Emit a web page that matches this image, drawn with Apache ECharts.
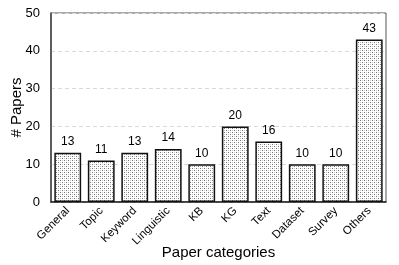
<!DOCTYPE html>
<html><head><meta charset="utf-8">
<script src="https://cdn.jsdelivr.net/npm/echarts@6/dist/echarts.min.js"></script>
<style>html,body{margin:0;padding:0;background:#fff}#c{width:399px;height:265px}</style>
</head><body><div id="c"></div>
<script>
const categories = ['General','Topic','Keyword','Linguistic','KB','KG','Text','Dataset','Survey','Others'];
const values = [13,11,13,14,10,20,16,10,10,43];
const yTicks = [0,10,20,30,40,50];

const pc = document.createElement('canvas');
pc.width = 4; pc.height = 4;
const ctx = pc.getContext('2d');
ctx.fillStyle = '#ffffff'; ctx.fillRect(0,0,4,4);
ctx.fillStyle = '#777777';
ctx.fillRect(0,0,1,1); ctx.fillRect(2,2,1,1);
ctx.fillStyle = '#c8c8c8';
ctx.fillRect(2,0,1,1); ctx.fillRect(0,2,1,1);

const chart = echarts.init(document.getElementById('c'));
chart.setOption({
  animation: false,
  grid: {left: 51, right: 13, top: 13, bottom: 63, show: true, borderColor: '#555', borderWidth: 1, containLabel: false, outerBoundsMode: 'none'},
  xAxis: {
    type: 'category', data: categories,
    name: 'Paper categories', nameLocation: 'middle', nameGap: 43, nameMoveOverlap: false,
    nameTextStyle: {fontFamily: 'Liberation Sans', fontSize: 15, color: '#000'},
    axisLine: {lineStyle: {color: '#222', width: 1.5}},
    axisTick: {show: false},
    axisLabel: {rotate: 45, fontFamily: 'Liberation Sans', fontSize: 11.5, color: '#000', margin: 7, interval: 0}
  },
  yAxis: {
    type: 'value', min: yTicks[0], max: yTicks[yTicks.length-1], interval: 10,
    name: '# Papers', nameLocation: 'middle', nameGap: 27, nameMoveOverlap: false,
    nameTextStyle: {fontFamily: 'Liberation Sans', fontSize: 15, color: '#000'},
    axisLine: {show: true, lineStyle: {color: '#444', width: 1.5}},
    axisTick: {show: false},
    axisLabel: {fontFamily: 'Liberation Sans', fontSize: 13, color: '#000', margin: 11},
    splitLine: {lineStyle: {color: '#d9d9d9', type: [4,3], width: 1}}
  },
  series: [{
    type: 'bar', data: values, barCategoryGap: '20%',
    itemStyle: {color: {image: pc, repeat: 'repeat'}, borderColor: '#111', borderWidth: 1.5},
    label: {show: true, position: 'top', fontFamily: 'Liberation Sans', fontSize: 12, color: '#000', distance: 5}
  }]
});
</script></body></html>
